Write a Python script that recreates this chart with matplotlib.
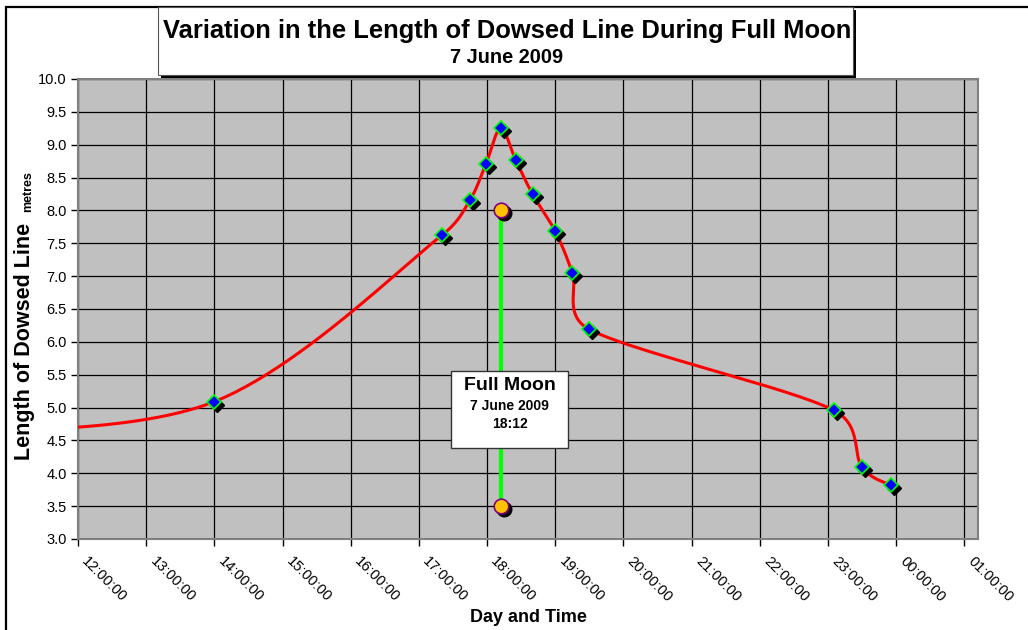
import matplotlib
matplotlib.use("Agg")
import matplotlib.pyplot as plt
import numpy as np
from matplotlib.patches import Rectangle
from matplotlib.transforms import offset_copy, ScaledTranslation

plt.rcParams['font.family'] = ['Liberation Sans', 'DejaVu Sans']

# ---- data ----
times = ["10:00", "14:00", "17:20", "17:45", "17:59", "18:12", "18:25", "18:40",
         "19:00", "19:15", "19:30", "23:05", "23:30", "23:55"]
lengths = [4.60, 5.09, 7.62, 8.16, 8.71, 9.25, 8.77, 8.25,
           7.68, 7.05, 6.19, 4.96, 4.09, 3.82]
moon_times = ["18:12", "18:12"]
moon_values = [8.0, 3.5]
x_ticks_hours = [12, 13, 14, 15, 16, 17, 18, 19, 20, 21, 22, 23, 24, 25]
x_tick_labels = ["12:00:00", "13:00:00", "14:00:00", "15:00:00", "16:00:00",
                 "17:00:00", "18:00:00", "19:00:00", "20:00:00", "21:00:00",
                 "22:00:00", "23:00:00", "00:00:00", "01:00:00"]
y_ticks = [3.0, 3.5, 4.0, 4.5, 5.0, 5.5, 6.0, 6.5, 7.0, 7.5, 8.0, 8.5, 9.0, 9.5, 10.0]


def to_hours(s):
    h, m = s.split(":")
    return int(h) + int(m) / 60.0


def smooth_bezier(P, n=50, cap=0.5):
    """Excel-like smoothing: cubic Bezier with Catmull-Rom tangents (1/6),
    tangent length capped relative to each segment chord (display coords)."""
    P = np.asarray(P, float)
    Pe = np.vstack([P[0], P, P[-1]])
    T = [(Pe[i + 2] - Pe[i]) / 6.0 for i in range(len(P))]
    t = np.linspace(0, 1, n)[:, None]
    out = []
    for i in range(len(P) - 1):
        p0, p1 = P[i], P[i + 1]
        chord = np.linalg.norm(p1 - p0)
        t0, t1 = T[i].copy(), T[i + 1].copy()
        for tv in (t0, t1):
            ln = np.linalg.norm(tv)
            if ln > cap * chord and ln > 0:
                tv *= cap * chord / ln
        c1 = p0 + t0
        c2 = p1 - t1
        seg = ((1 - t)**3 * p0 + 3 * (1 - t)**2 * t * c1 +
               3 * (1 - t) * t**2 * c2 + t**3 * p1)
        out.append(seg if i == 0 else seg[1:])
    return np.vstack(out)


tx = np.array([to_hours(s) for s in times])
ty = np.array(lengths)
mx = np.array([to_hours(s) for s in moon_times])
my = np.array(moon_values)

W, H = 1028, 630
fig = plt.figure(figsize=(W / 100, H / 100), dpi=100)


def fx(px):
    return px / W


def fy(py):
    return 1 - py / H


ax = fig.add_axes([fx(78), fy(539), 900 / W, 460 / H])
ax.set_facecolor('#C0C0C0')
ax.set_xlim(12, 25.2)
ax.set_ylim(3.0, 10.0)

ax.set_xticks(x_ticks_hours)
ax.set_xticklabels([])
# rotated tick labels, anchored just below/right of each tick
lab_tr = ax.get_xaxis_transform() + ScaledTranslation(11 / 100, -15 / 100,
                                                      fig.dpi_scale_trans)
for xv, lab in zip(x_ticks_hours, x_tick_labels):
    ax.text(xv, 0, lab, transform=lab_tr, rotation=-45, ha='left', va='top',
            rotation_mode='anchor', fontsize=10.5, clip_on=False)
ax.set_yticks(y_ticks)
ax.set_yticklabels([f"{v:.1f}" for v in y_ticks], fontsize=10.5)
ax.tick_params(axis='both', direction='out', length=5, width=1, color='black', pad=3)
ax.grid(True, color='black', lw=0.9)
ax.set_axisbelow(True)
for sp in ax.spines.values():
    sp.set_color('#808080')
    sp.set_linewidth(1.5)

# smoothed line (computed in display space, mapped back to data)
disp = ax.transData.transform(np.column_stack([tx, ty]))
curve = ax.transData.inverted().transform(smooth_bezier(disp))
ax.plot(curve[:, 0], curve[:, 1], color='#FF0000', lw=2.2, zorder=3)

shadow = offset_copy(ax.transData, fig=fig, x=3, y=-3, units='dots')

# full moon line
ax.plot(mx, my, color='#00FF00', lw=3.0, zorder=3)
ax.plot(mx, my, ls='none', marker='o', ms=10.5, mfc='black', mec='black',
        transform=shadow, zorder=4)
ax.plot(mx, my, ls='none', marker='o', ms=10.5, mfc='#FFC000', mec='#800080',
        mew=1.2, zorder=5)

# data markers
ax.plot(tx, ty, ls='none', marker='D', ms=7.2, mfc='black', mec='black',
        transform=shadow, zorder=4)
ax.plot(tx, ty, ls='none', marker='D', ms=7.2, mfc='#0000FF', mec='#00FF00',
        mew=1.2, zorder=5)

# outer chart border
fig.add_artist(Rectangle((fx(6), -0.2), 1.5, fy(7) + 0.2, transform=fig.transFigure,
                         fill=False, ec='black', lw=1.6))

# title box with shadow
fig.add_artist(Rectangle((fx(161), fy(78)), (853 - 158) / W, (75 - 7) / H,
                         transform=fig.transFigure, fc='black', ec='none', zorder=1))
fig.add_artist(Rectangle((fx(158), fy(75)), (853 - 158) / W, (75 - 7) / H,
                         transform=fig.transFigure, fc='white', ec='#555555', lw=0.8,
                         zorder=2))
fig.text(fx(507), fy(38), "Variation in the Length of Dowsed Line During Full Moon",
         ha='center', va='baseline', fontsize=18.4, fontweight='bold', zorder=3)
fig.text(fx(507), fy(63), "7 June 2009", ha='center', va='baseline',
         fontsize=14.3, fontweight='bold', zorder=3)

# full moon annotation box
fig.add_artist(Rectangle((fx(451), fy(448)), (568 - 451) / W, (448 - 371) / H,
                         transform=fig.transFigure, fc='white', ec='#333333', lw=1.0,
                         zorder=6))
fig.text(fx(509.5), fy(390), "Full Moon", ha='center', va='baseline', fontsize=14,
         fontweight='bold', zorder=7)
fig.text(fx(509.5), fy(410), "7 June 2009", ha='center', va='baseline', fontsize=10,
         fontweight='bold', zorder=7)
fig.text(fx(509.5), fy(428), "18:12", ha='center', va='baseline', fontsize=10,
         fontweight='bold', zorder=7)

# axis labels
fig.text(fx(30), fy(341), "Length of Dowsed Line", rotation=90, ha='center',
         va='baseline', rotation_mode='anchor', fontsize=15.5, fontweight='bold')
fig.text(fx(31), fy(192), "metres", rotation=90, ha='center', va='baseline',
         rotation_mode='anchor', fontsize=9, fontweight='bold')
fig.text(fx(528), fy(622), "Day and Time", ha='center', va='baseline', fontsize=13,
         fontweight='bold')

fig.savefig("out.png", dpi=100)
